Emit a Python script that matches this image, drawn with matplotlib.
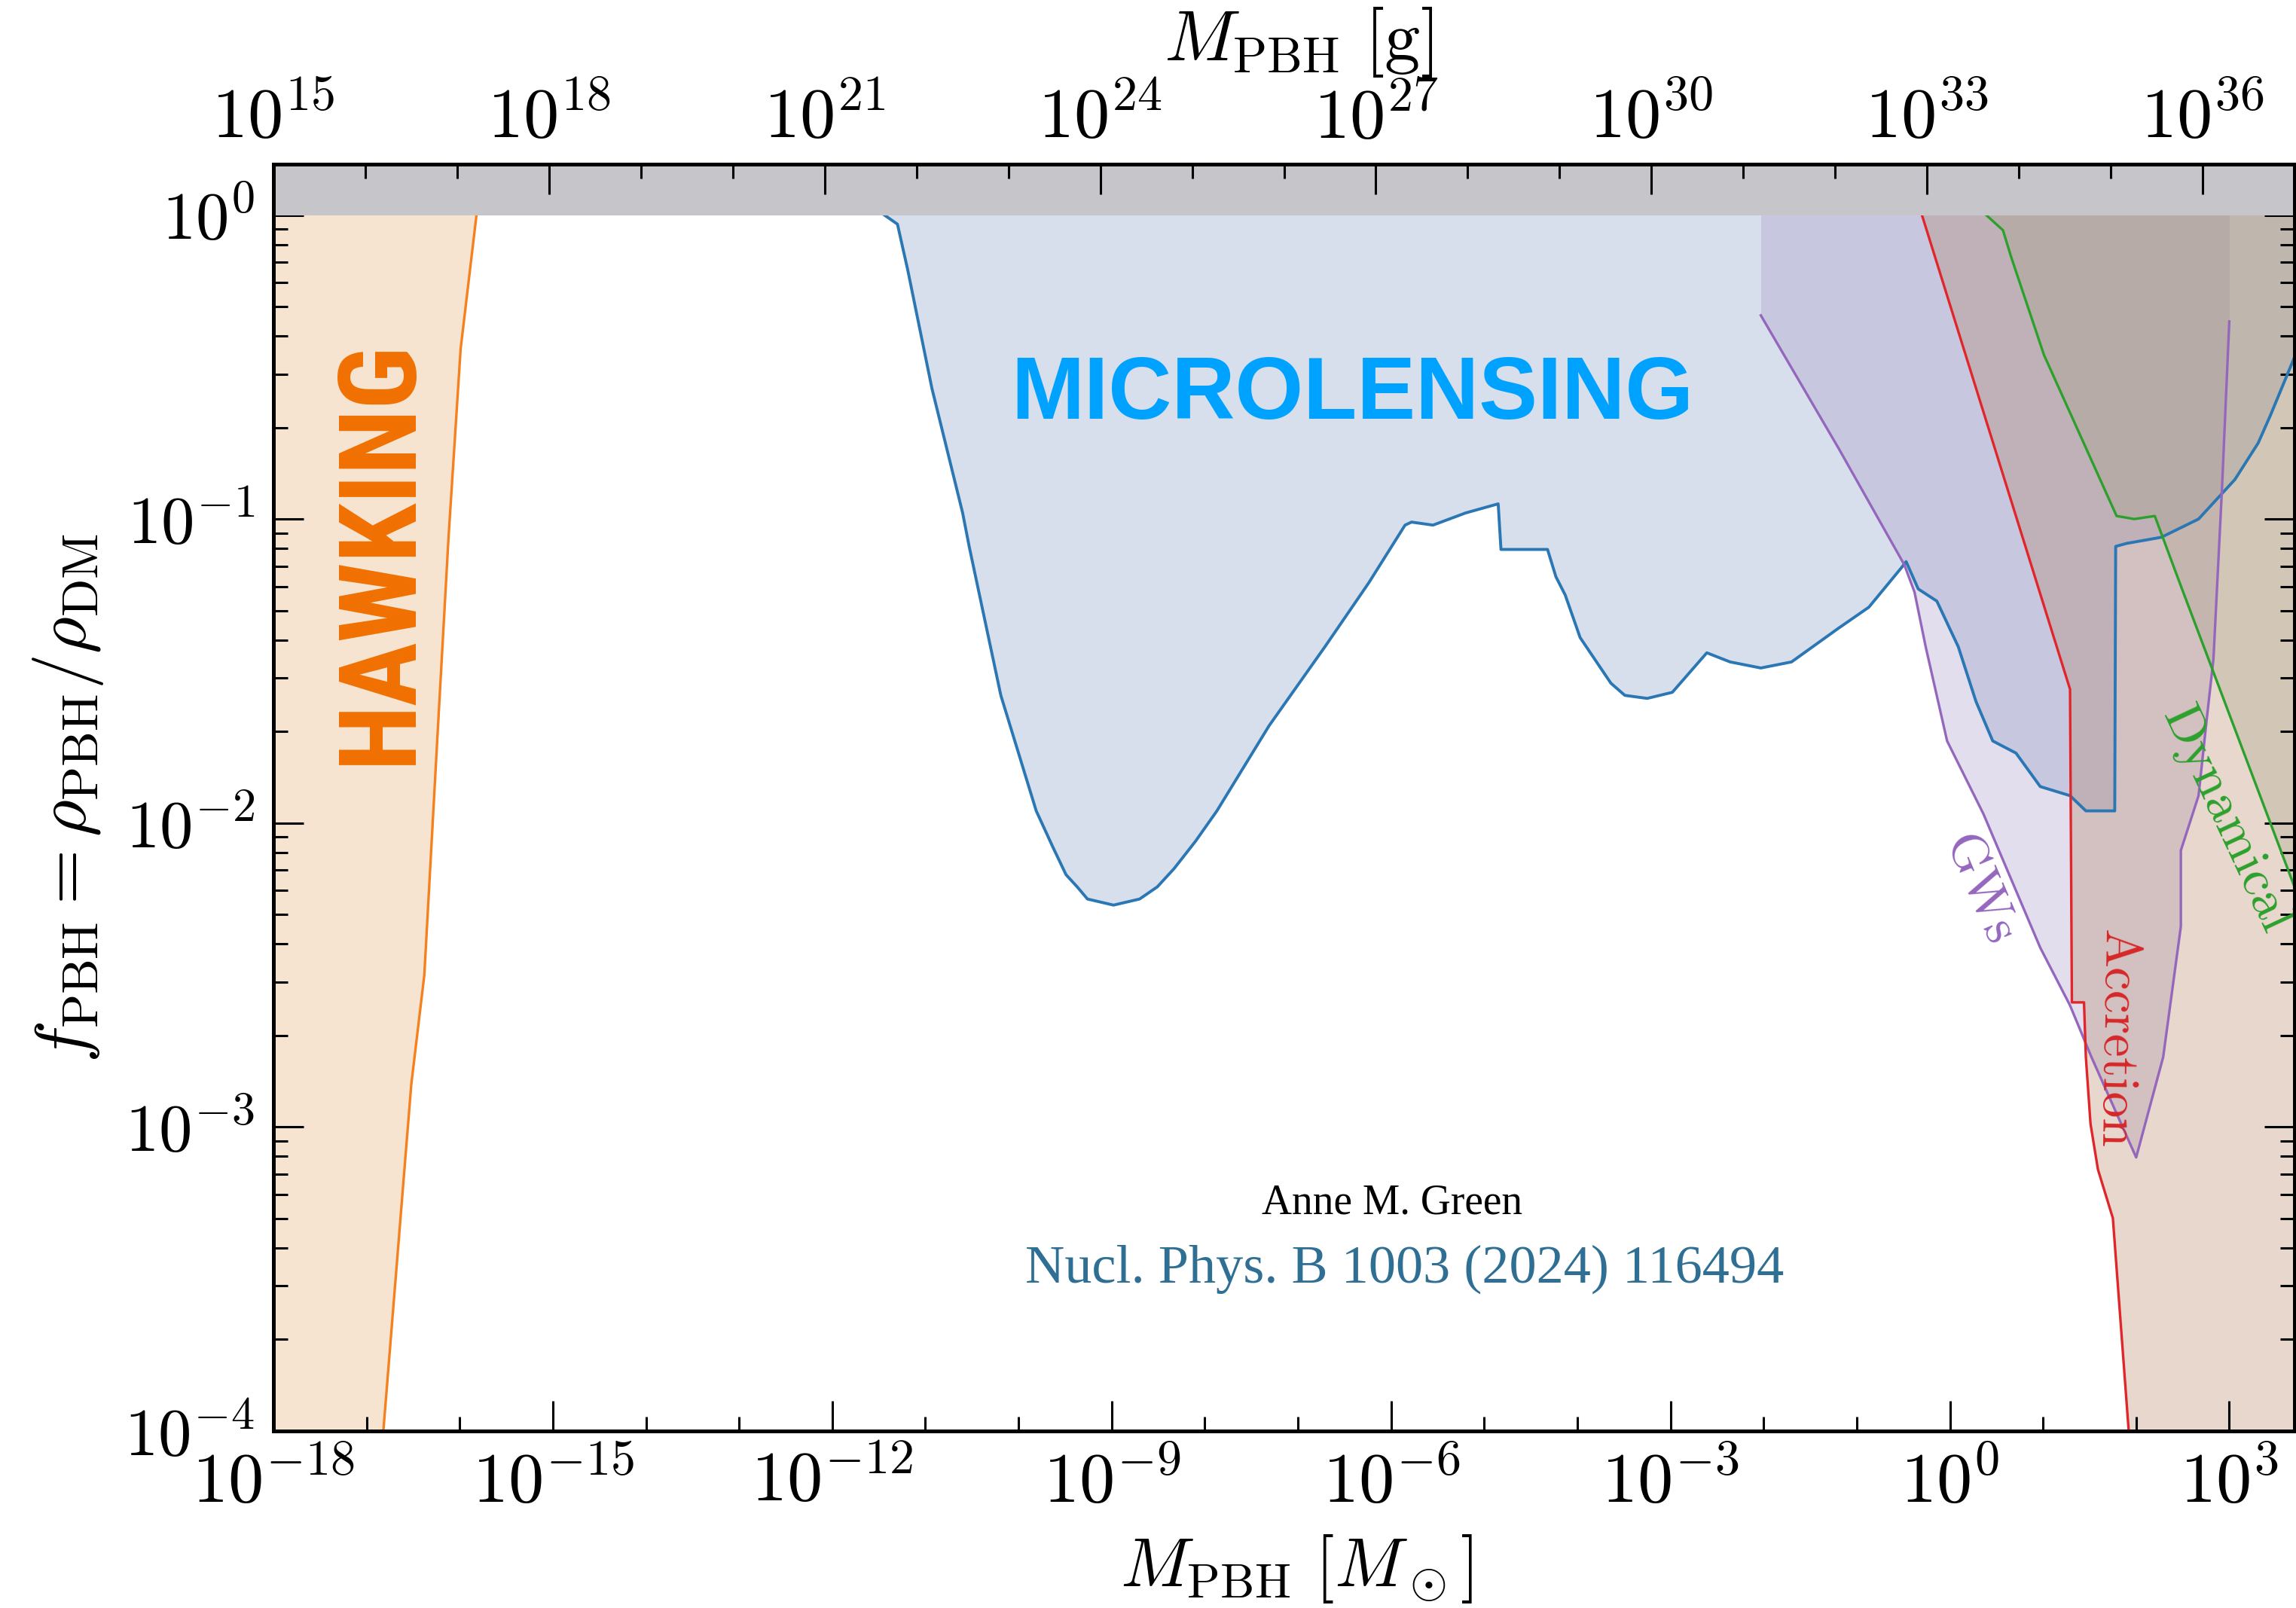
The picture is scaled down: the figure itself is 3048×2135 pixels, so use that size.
import numpy as np
import matplotlib.pyplot as plt
from matplotlib.ticker import FixedLocator, FuncFormatter, NullFormatter

plt.rcParams.update({
    'font.family': 'serif',
    'font.serif': ['cmr10'],
    'mathtext.fontset': 'cm',
    'axes.unicode_minus': False,
})

# ── constraint curves: log10(M_PBH / Msun) against log10(f_PBH) ─────────────

hawking_logm = [-15.82, -15.99, -16.12, -16.24, -16.38, -16.52, -16.82]
hawking_logf = [0.0, -0.44, -1.06, -1.72, -2.50, -2.86, -4.0]

lens_logm = [-11.44, -11.30, -11.19, -10.93, -10.60, -10.53, -10.19, -9.81, -9.63, -9.49,
             -9.37, -9.26, -9.12, -8.98, -8.84, -8.70, -8.51, -8.33, -8.10, -7.87,
             -7.31, -6.71, -6.24, -5.85, -5.78, -5.55, -5.20, -4.85, -4.82, -4.32,
             -4.23, -4.13, -3.97, -3.64, -3.49, -3.25, -2.98, -2.61, -2.36, -2.03,
             -1.70, -1.20, -0.87, -0.52, -0.47, -0.34, -0.14, 0.09, 0.28, 0.46,
             0.71, 0.97, 1.29, 1.46, 1.77, 1.78, 1.90, 2.27, 2.67, 2.91,
             3.06, 3.31, 3.44, 3.71]
lens_logf = [0.0, -0.03, -0.18, -0.57, -0.98, -1.09, -1.58, -1.96, -2.08, -2.17,
             -2.21, -2.25, -2.26, -2.27, -2.26, -2.25, -2.21, -2.15, -2.06, -1.96,
             -1.68, -1.42, -1.21, -1.02, -1.01, -1.02, -0.98, -0.95, -1.10, -1.10,
             -1.19, -1.25, -1.39, -1.54, -1.58, -1.59, -1.57, -1.44, -1.47, -1.49,
             -1.47, -1.36, -1.29, -1.16, -1.14, -1.23, -1.27, -1.42, -1.60, -1.73,
             -1.77, -1.88, -1.91, -1.96, -1.96, -1.09, -1.08, -1.06, -1.00, -0.92,
             -0.87, -0.75, -0.66, -0.46]

gw_logm = [-2.03, -1.19, -0.49, -0.38, -0.26, -0.03, 0.36, 0.97, 1.29, 1.52,
           2.00, 2.29, 2.48, 2.48, 2.67, 2.75, 2.83, 2.92, 3.00]
gw_logf = [-0.33, -0.77, -1.15, -1.24, -1.42, -1.73, -1.97, -2.41, -2.60, -2.77,
           -3.10, -2.77, -2.34, -2.09, -1.91, -1.68, -1.46, -0.91, -0.35]

acc_logm = [-0.30, 1.29, 1.31, 1.44, 1.46, 1.51, 1.59, 1.75, 1.92]
acc_logf = [0.0, -1.56, -2.59, -2.59, -2.77, -2.99, -3.14, -3.30, -4.0]

dyn_logm = [0.39, 0.57, 0.66, 1.01, 1.79, 1.98, 2.20, 2.48, 3.70]
dyn_logf = [0.0, -0.05, -0.14, -0.46, -0.99, -1.00, -0.99, -1.22, -2.21]

# axis ranges
M_MIN, M_MAX = 1e-18, 10**3.70
G_MIN, G_MAX = 1e15, 1e37
F_MIN, F_MAX = 1e-4, 1.47


def pw(a):
    return 10.0 ** np.asarray(a)


def pow_label(v, pos):
    return r'$10^{%d}$' % int(round(np.log10(v)))


fig = plt.figure(figsize=(15.24, 10.675), dpi=200)
ax = fig.add_axes([363 / 3048, 1 - 1900 / 2135, 2683 / 3048, 1682 / 2135])

# ── shaded regions ─────────────────────────────────────────────────────────────
ax.fill_betweenx(pw(hawking_logf), M_MIN, pw(hawking_logm), color='#f7e4d0', lw=0, zorder=1)
ax.fill_between(pw(lens_logm), pw(lens_logf), 1, color='#8097c3', alpha=0.3, lw=0, zorder=1)
ax.fill_between(pw(gw_logm), pw(gw_logf), 1, color='#a294c6', alpha=0.3, lw=0, zorder=1)
ax.fill_betweenx(pw(acc_logf), pw(acc_logm), M_MAX, color='#b27d5c', alpha=0.3, lw=0, zorder=1)
ax.fill_betweenx(pw(dyn_logf), pw(dyn_logm), M_MAX, color='#a39f86', alpha=0.3, lw=0, zorder=1)

# ── boundaries ────────────────────────────────────────────────────────────────
ax.plot(pw(lens_logm), pw(lens_logf), color='#2a77b4', lw=1.4, zorder=2)
ax.plot(pw(gw_logm), pw(gw_logf), color='#9467bd', lw=1.2, zorder=2)
ax.plot(pw(acc_logm), pw(acc_logf), color='#e0262a', lw=1.2, zorder=2)
ax.plot(pw(dyn_logm), pw(dyn_logf), color='#2ca02c', lw=1.2, zorder=2)
ax.plot(pw(hawking_logm), pw(hawking_logf), color='#f5801e', lw=1.2, zorder=2)

# f > 1 is excluded by definition
ax.axhspan(1, F_MAX, color='#c6c5ca', lw=0, zorder=2.2)

ax.set_xscale('log')
ax.set_yscale('log')
ax.set_xlim(M_MIN, M_MAX)
ax.set_ylim(F_MIN, F_MAX)

ax.xaxis.set_major_locator(FixedLocator(10.0 ** np.arange(-18, 4, 3)))
ax.xaxis.set_minor_locator(FixedLocator(10.0 ** np.arange(-18, 4)))
ax.xaxis.set_major_formatter(FuncFormatter(pow_label))
ax.xaxis.set_minor_formatter(NullFormatter())
ax.yaxis.set_major_locator(FixedLocator(10.0 ** np.arange(-4, 1)))
ax.yaxis.set_minor_locator(FixedLocator(
    [m * 10.0 ** e for e in range(-4, 0) for m in range(2, 10)]))
ax.yaxis.set_major_formatter(FuncFormatter(pow_label))
ax.yaxis.set_minor_formatter(NullFormatter())

ax.tick_params(which='both', direction='in', top=False, right=True, width=1.1)
ax.tick_params(which='major', length=14.5)
ax.tick_params(which='minor', length=7)
ax.tick_params(axis='x', which='major', labelsize=34, pad=9)
ax.tick_params(axis='y', which='major', labelsize=32, pad=9)
for sp in ax.spines.values():
    sp.set_linewidth(1.8)

ax.set_xlabel(r'$M_{\rm PBH}\ [M_\odot]$', fontsize=33)
ax.xaxis.set_label_coords(0.506, -0.080)
ax.set_ylabel(r'$f_{\rm PBH} = \rho_{\rm PBH}/\rho_{\rm DM}$', fontsize=34)
ax.yaxis.set_label_coords(-0.083, 0.5)

# mass in grams along the top
top = ax.twiny()
top.set_xscale('log')
top.set_xlim(G_MIN, G_MAX)
top.xaxis.set_major_locator(FixedLocator(10.0 ** np.arange(15, 38, 3)))
top.xaxis.set_minor_locator(FixedLocator(10.0 ** np.arange(15, 38)))
top.xaxis.set_major_formatter(FuncFormatter(pow_label))
top.xaxis.set_minor_formatter(NullFormatter())
top.tick_params(which='both', direction='in', width=1.1)
top.tick_params(which='major', length=14.5, labelsize=34, pad=6)
top.tick_params(which='minor', length=7)
for sp in top.spines.values():
    sp.set_linewidth(1.8)
top.set_xlabel(r'$M_{\rm PBH}\ [{\rm g}]$', fontsize=34)
top.xaxis.set_label_coords(0.507, 1.082)

# ── labels ────────────────────────────────────────────────────────────────────
ax.text(0.0678, 0.6938, 'HAWKING', transform=ax.transAxes, rotation=90,
        rotation_mode='anchor', ha='center', va='baseline', fontsize=51,
        fontweight='bold', color='#f07100',
        family=['Roboto Condensed', 'Liberation Sans', 'DejaVu Sans'])
ax.text(0.5339, 0.7991, 'MICROLENSING', transform=ax.transAxes, ha='center',
        va='baseline', fontsize=42, fontweight='bold', color='#00a2ff',
        family=['Liberation Sans', 'DejaVu Sans'])

ax.text(10**0.31, 10**-2.22, 'GWs', rotation=-67, rotation_mode='anchor',
        ha='center', va='center', fontsize=25, color='#9467bd', family='cmr10')
ax.text(10**1.78, 10**-2.71, 'Accretion', rotation=-91, rotation_mode='anchor',
        ha='center', va='center', fontsize=25, color='#d62728', family='cmr10')
ax.text(10**2.96, 10**-1.99, 'Dynamical', rotation=-65, rotation_mode='anchor',
        ha='center', va='center', fontsize=25, color='#2ca02c', family='cmr10')

ax.text(0.5535, 0.1714, 'Anne M. Green', transform=ax.transAxes, ha='center',
        va='baseline', fontsize=20, color='black', family='Liberation Serif')
ax.text(0.5596, 0.1171, 'Nucl. Phys. B 1003 (2024) 116494', transform=ax.transAxes,
        ha='center', va='baseline', fontsize=26, color='#2f6f94',
        family='Liberation Serif')

fig.savefig('out.png', dpi=200)
